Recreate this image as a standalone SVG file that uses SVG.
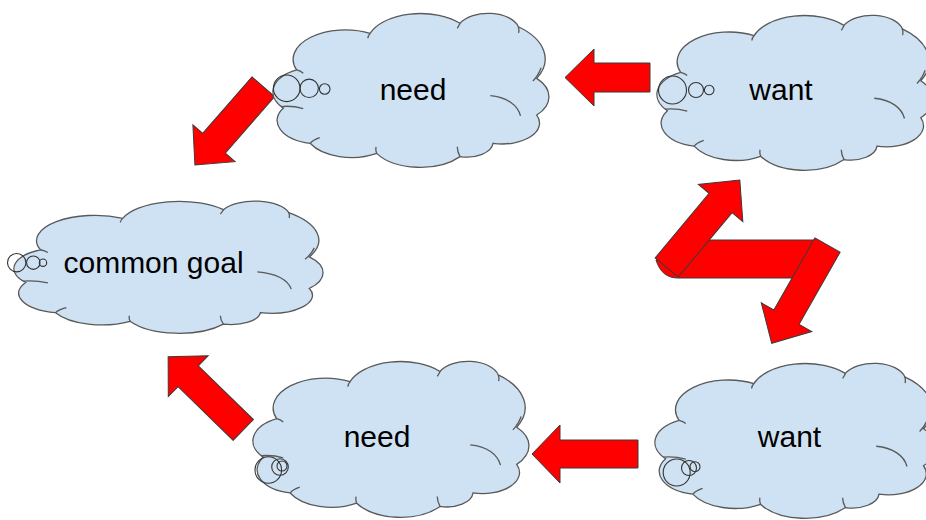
<svg xmlns="http://www.w3.org/2000/svg" width="926" height="520" viewBox="0 0 926 520">
  <style>
    .cb { fill: #cfe2f3; stroke: #595959; stroke-width: 1.3; }
    .ci { fill: none; stroke: #595959; stroke-width: 1.3; }
    .bub { fill: none; stroke: #333333; stroke-width: 1.1; }
    .arr { fill: #ff0000; stroke: #3a3a3a; stroke-width: 1; stroke-linejoin: miter; }
    .lbl { font-family: "Liberation Sans", Arial, sans-serif; font-size: 30px; fill: #000000; text-anchor: middle; }
  </style>
  <rect x="0" y="0" width="926" height="520" fill="#ffffff"/>

  <g id="connectors">
    <polygon class="arr" transform="translate(650,77.5) rotate(180)" points="0,-14.5 56,-14.5 56,-28.5 85,0 56,28.5 56,14.5 0,14.5"/>
    <polygon class="arr" transform="translate(263.3,86.7) rotate(131.1)" points="0,-15 75,-15 75,-28 104,0 75,28 75,15 0,15"/>
    <polygon class="arr" transform="translate(243.3,430) rotate(224.3)" points="0,-14.5 77,-14.5 77,-28.5 105,0 77,28.5 77,14.5 0,14.5"/>
    <polygon class="arr" transform="translate(638,454) rotate(180)" points="0,-14 78,-14 78,-29 106,0 78,29 78,14 0,14"/>
    <path class="arr" d="M 700,240 L 818,240 L 800,278 L 678,278 C 668,278 660,273 656,260 Z"/>
    <polygon class="arr" transform="translate(666.7,267.5) rotate(-50.1)" points="0,-15 84,-15 84,-29 114,0 84,29 84,15 0,15"/>
    <polygon class="arr" transform="translate(827.5,245) rotate(119.6)" points="0,-14.5 83,-14.5 83,-29 113,0 83,29 83,14.5 0,14.5"/>
  </g>

  <g id="need-top">
    <path class="cb" transform="translate(273,12) scale(2.75,1.55)" d="M 8.6,37.4 A 19,19 0 0 1 35.3,13.8 A 19.5,19.5 0 0 1 68,7.3 A 11.3,11.3 0 0 1 89.2,9.5 A 27,27 0 0 1 95.9,42.8 A 18,18 0 0 1 95.9,66.5 A 13.5,13.5 0 0 1 80,84.7 A 9.6,9.6 0 0 1 68,93.3 A 18.5,18.5 0 0 1 37.7,91.2 A 17,17 0 0 1 13.5,84.7 A 15,15 0 0 1 3.8,62 A 16,16 0 0 1 8.6,37.4 Z" vector-effect="non-scaling-stroke"/>
    <path class="ci" transform="translate(273,12) scale(2.75,1.55)" d="M 3,61 Q 7,60.3 11,62.3 M 13.5,84.7 Q 14.5,82.5 17,81 M 37.7,91.2 Q 37.2,89 37.5,87 M 68,93.3 Q 67,90 67,87 M 79,54 C 85,55 89,60 90,67 M 97.5,36 Q 96.5,41 94.5,44.5 M 89.2,9.5 Q 89.6,11.5 89.3,13.5 M 68,7.3 Q 67.6,9 67,10.5 M 35.3,13.8 Q 34.5,15.5 34.5,17 M 8.6,37.4 Q 10,38 11,39.5" vector-effect="non-scaling-stroke"/>
    <circle class="bub" cx="286.7" cy="88.3" r="13.3"/>
    <circle class="bub" cx="309.2" cy="88.3" r="9.2"/>
    <circle class="bub" cx="324.7" cy="89" r="5.3"/>
    <text class="lbl" x="413" y="100">need</text>
  </g>

  <g id="want-top">
    <path class="cb" transform="translate(657,14) scale(2.75,1.56)" d="M 8.6,37.4 A 19,19 0 0 1 35.3,13.8 A 19.5,19.5 0 0 1 68,7.3 A 11.3,11.3 0 0 1 89.2,9.5 A 27,27 0 0 1 95.9,42.8 A 18,18 0 0 1 95.9,66.5 A 13.5,13.5 0 0 1 80,84.7 A 9.6,9.6 0 0 1 68,93.3 A 18.5,18.5 0 0 1 37.7,91.2 A 17,17 0 0 1 13.5,84.7 A 15,15 0 0 1 3.8,62 A 16,16 0 0 1 8.6,37.4 Z" vector-effect="non-scaling-stroke"/>
    <path class="ci" transform="translate(657,14) scale(2.75,1.56)" d="M 3,61 Q 7,60.3 11,62.3 M 13.5,84.7 Q 14.5,82.5 17,81 M 37.7,91.2 Q 37.2,89 37.5,87 M 68,93.3 Q 67,90 67,87 M 79,54 C 85,55 89,60 90,67 M 97.5,36 Q 96.5,41 94.5,44.5 M 89.2,9.5 Q 89.6,11.5 89.3,13.5 M 68,7.3 Q 67.6,9 67,10.5 M 35.3,13.8 Q 34.5,15.5 34.5,17 M 8.6,37.4 Q 10,38 11,39.5" vector-effect="non-scaling-stroke"/>
    <circle class="bub" cx="672.5" cy="90" r="14"/>
    <circle class="bub" cx="696" cy="90" r="7.5"/>
    <circle class="bub" cx="709.2" cy="90" r="4.8"/>
    <text class="lbl" x="781" y="100">want</text>
  </g>

  <g id="common-goal">
    <path class="cb" transform="translate(14,200) scale(3.08,1.33)" d="M 8.6,37.4 A 19,19 0 0 1 35.3,13.8 A 19.5,19.5 0 0 1 68,7.3 A 11.3,11.3 0 0 1 89.2,9.5 A 27,27 0 0 1 95.9,42.8 A 18,18 0 0 1 95.9,66.5 A 13.5,13.5 0 0 1 80,84.7 A 9.6,9.6 0 0 1 68,93.3 A 18.5,18.5 0 0 1 37.7,91.2 A 17,17 0 0 1 13.5,84.7 A 15,15 0 0 1 3.8,62 A 16,16 0 0 1 8.6,37.4 Z" vector-effect="non-scaling-stroke"/>
    <path class="ci" transform="translate(14,200) scale(3.08,1.33)" d="M 3,61 Q 7,60.3 11,62.3 M 13.5,84.7 Q 14.5,82.5 17,81 M 37.7,91.2 Q 37.2,89 37.5,87 M 68,93.3 Q 67,90 67,87 M 79,54 C 85,55 89,60 90,67 M 97.5,36 Q 96.5,41 94.5,44.5 M 89.2,9.5 Q 89.6,11.5 89.3,13.5 M 68,7.3 Q 67.6,9 67,10.5 M 35.3,13.8 Q 34.5,15.5 34.5,17 M 8.6,37.4 Q 10,38 11,39.5" vector-effect="non-scaling-stroke"/>
    <circle class="bub" cx="16.7" cy="262.7" r="9.2"/>
    <circle class="bub" cx="33.3" cy="262.7" r="6.7"/>
    <circle class="bub" cx="43" cy="262.7" r="3.7"/>
    <text class="lbl" x="153.5" y="273">common goal</text>
  </g>

  <g id="need-bottom">
    <path class="cb" transform="translate(253,360) scale(2.75,1.57)" d="M 8.6,37.4 A 19,19 0 0 1 35.3,13.8 A 19.5,19.5 0 0 1 68,7.3 A 11.3,11.3 0 0 1 89.2,9.5 A 27,27 0 0 1 95.9,42.8 A 18,18 0 0 1 95.9,66.5 A 13.5,13.5 0 0 1 80,84.7 A 9.6,9.6 0 0 1 68,93.3 A 18.5,18.5 0 0 1 37.7,91.2 A 17,17 0 0 1 13.5,84.7 A 15,15 0 0 1 3.8,62 A 16,16 0 0 1 8.6,37.4 Z" vector-effect="non-scaling-stroke"/>
    <path class="ci" transform="translate(253,360) scale(2.75,1.57)" d="M 3,61 Q 7,60.3 11,62.3 M 13.5,84.7 Q 14.5,82.5 17,81 M 37.7,91.2 Q 37.2,89 37.5,87 M 68,93.3 Q 67,90 67,87 M 79,54 C 85,55 89,60 90,67 M 97.5,36 Q 96.5,41 94.5,44.5 M 89.2,9.5 Q 89.6,11.5 89.3,13.5 M 68,7.3 Q 67.6,9 67,10.5 M 35.3,13.8 Q 34.5,15.5 34.5,17 M 8.6,37.4 Q 10,38 11,39.5" vector-effect="non-scaling-stroke"/>
    <circle class="bub" cx="268.3" cy="470" r="13.3"/>
    <circle class="bub" cx="280" cy="467" r="8.3"/>
    <circle class="bub" cx="282" cy="466" r="5"/>
    <text class="lbl" x="377" y="447">need</text>
  </g>

  <g id="want-bottom">
    <path class="cb" transform="translate(655,362) scale(2.8,1.56)" d="M 8.6,37.4 A 19,19 0 0 1 35.3,13.8 A 19.5,19.5 0 0 1 68,7.3 A 11.3,11.3 0 0 1 89.2,9.5 A 27,27 0 0 1 95.9,42.8 A 18,18 0 0 1 95.9,66.5 A 13.5,13.5 0 0 1 80,84.7 A 9.6,9.6 0 0 1 68,93.3 A 18.5,18.5 0 0 1 37.7,91.2 A 17,17 0 0 1 13.5,84.7 A 15,15 0 0 1 3.8,62 A 16,16 0 0 1 8.6,37.4 Z" vector-effect="non-scaling-stroke"/>
    <path class="ci" transform="translate(655,362) scale(2.8,1.56)" d="M 3,61 Q 7,60.3 11,62.3 M 13.5,84.7 Q 14.5,82.5 17,81 M 37.7,91.2 Q 37.2,89 37.5,87 M 68,93.3 Q 67,90 67,87 M 79,54 C 85,55 89,60 90,67 M 97.5,36 Q 96.5,41 94.5,44.5 M 89.2,9.5 Q 89.6,11.5 89.3,13.5 M 68,7.3 Q 67.6,9 67,10.5 M 35.3,13.8 Q 34.5,15.5 34.5,17 M 8.6,37.4 Q 10,38 11,39.5" vector-effect="non-scaling-stroke"/>
    <circle class="bub" cx="676.7" cy="472.5" r="13.5"/>
    <circle class="bub" cx="689" cy="468" r="7.5"/>
    <circle class="bub" cx="695" cy="466.7" r="5"/>
    <text class="lbl" x="789.5" y="447">want</text>
  </g>
</svg>
